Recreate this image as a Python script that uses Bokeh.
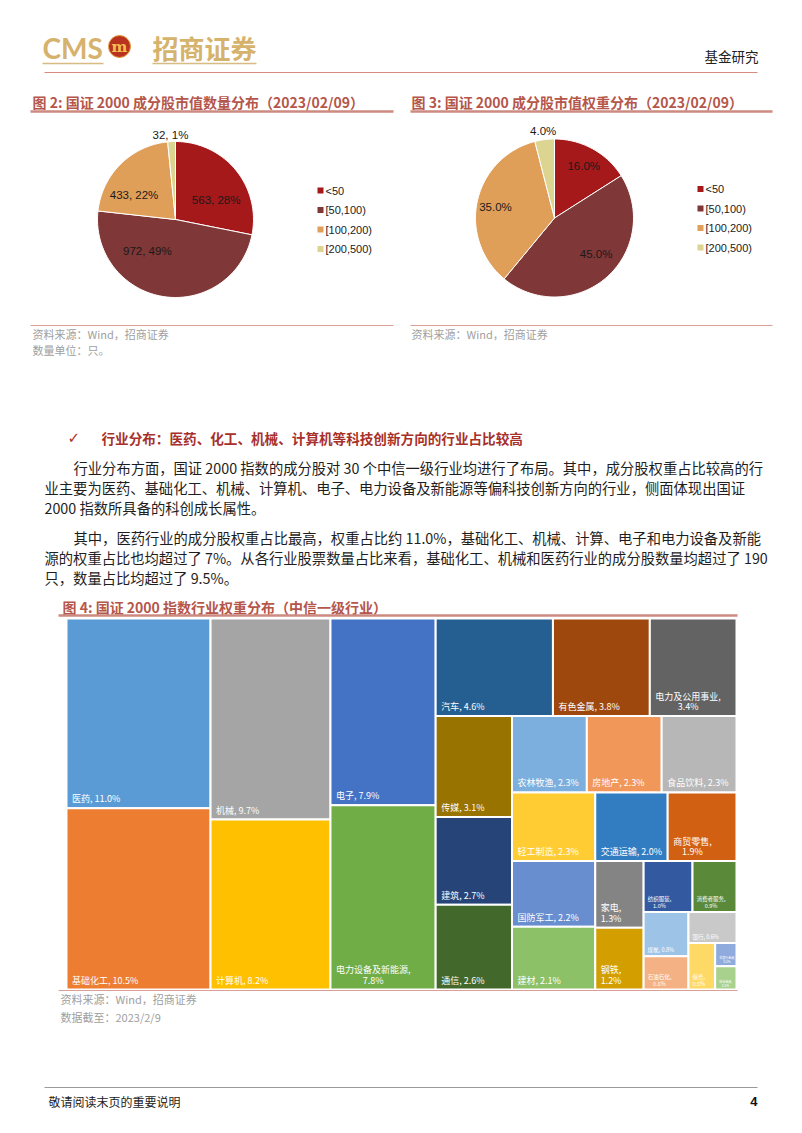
from bokeh.plotting import figure
from bokeh.models import Range1d, ColumnDataSource
from bokeh.core.properties import value
from bokeh.embed import file_html
from bokeh.resources import INLINE
import math

# ---------------- data ----------------
pie_categories = ["<50", "[50,100)", "[100,200)", "[200,500)"]
pie_counts = [563, 972, 433, 32]
pie_count_pct = [28, 49, 22, 1]
pie_weights = [16.0, 45.0, 35.0, 4.0]

industries = ["医药", "基础化工", "机械", "计算机", "电子", "电力设备及新能源",
              "汽车", "有色金属", "电力及公用事业", "传媒", "建筑", "通信",
              "农林牧渔", "房地产", "食品饮料", "轻工制造", "国防军工", "建材",
              "交通运输", "商贸零售", "家电", "钢铁", "纺织服装", "消费者服务",
              "煤炭", "石油石化", "银行", "综合", "非银行金融", "综合金融"]
weights = [11.0, 10.5, 9.7, 8.2, 7.9, 7.8,
           4.6, 3.8, 3.4, 3.1, 2.7, 2.6,
           2.3, 2.3, 2.3, 2.3, 2.2, 2.1,
           2.0, 1.9, 1.3, 1.2, 1.0, 0.9,
           0.8, 0.6, 0.6, 0.5, 0.2, 0.2]

# ---------------- styles ----------------
pie_colors = ["#A5191A", "#7F3737", "#DF9F58", "#DCD591"]
tm_colors = ["#5B9BD5", "#ED7D31", "#A5A5A5", "#FFC000", "#4472C4", "#70AD47",
             "#255E91", "#9E480E", "#636363", "#997300", "#264478", "#43682B",
             "#7CAFDD", "#F1975A", "#B7B7B7", "#FFCD33", "#698ED0", "#8CC168",
             "#327DC2", "#D26012", "#848484", "#D39F00", "#335AA1", "#5A8A39",
             "#9DC3E6", "#F4B183", "#C9C9C9", "#FFD966", "#8FAADC", "#A9D18E"]
TITLE_C = "#B5564A"
RULE_C = "#CC8A80"
GOLD = "#D6B36C"
CJK = "Noto Sans CJK SC"
LAT = "Liberation Sans"

p = figure(width=786, height=1117, x_range=Range1d(0, 786), y_range=Range1d(1117, 0),
           output_backend="svg", toolbar_location=None, min_border=0)
p.axis.visible = False
p.grid.visible = False
p.outline_line_color = None
p.background_fill_color = "white"
p.border_fill_color = "white"


def txt(x, y, s, size, color="#222222", font=CJK, align="left", bold=False, baseline="middle"):
    p.text(x=[x], y=[y], text=[s], text_font=value(font), text_font_size=value(f"{size}px"),
           text_color=color, text_align=align, text_baseline=baseline,
           text_font_style="bold" if bold else "normal")


def hline(x0, x1, y, color, w=1.0):
    p.segment(x0=[x0], y0=[y], x1=[x1], y1=[y], line_color=color, line_width=w)


# ---------------- header ----------------
txt(42, 47, "CMS", 28, GOLD, font="Lato", bold=True)
p.circle(x=[119], y=[46], radius=11, fill_color="#B8321F", line_color="#E0A040", line_width=1)
txt(119, 46, "m", 15, "#F2C14E", font="DejaVu Serif", align="center", bold=True)
txt(152, 47, "招商证券", 26, GOLD, font=CJK, bold=True)
hline(42, 103, 63, "#D8BC82", 1.5)
hline(152, 256, 63, "#D8BC82", 1.5)
hline(44, 757, 72, "#D98A7E", 1.2)
txt(758, 55, "基金研究", 13.5, "#222222", align="right")

# ---------------- pie charts ----------------
def pie(cx, cy, r, vals, label_texts, label_pos, legend_x, legend_y0, title, tx, ux0, ux1, src_lines):
    txt(tx, 101, title, 14, TITLE_C, bold=True)
    hline(ux0, ux1, 111, RULE_C, 2.5)
    tot = float(sum(vals))
    start = 0.0
    for v, col in zip(vals, pie_colors):
        end = start + v / tot * 360.0
        n = max(3, int((end - start) / 2) + 2)
        xs, ys = [cx], [cy]
        for k in range(n + 1):
            a = math.radians(start + (end - start) * k / n)
            xs.append(cx + r * math.sin(a))
            ys.append(cy - r * math.cos(a))
        p.patch(xs, ys, fill_color=col, line_color="white", line_width=1)
        start = end
    for s, (ang, rho) in zip(label_texts, label_pos):
        a = math.radians(ang)
        txt(cx + rho * r * math.sin(a), cy - rho * r * math.cos(a), s, 11.5, "#1a1a1a",
            font=LAT, align="center")
    for i, (cat, col) in enumerate(zip(pie_categories, pie_colors)):
        yy = legend_y0 + i * 19.5
        p.rect(x=[legend_x], y=[yy], width=6, height=6, fill_color=col, line_color=None)
        txt(legend_x + 5, yy, cat, 11, "#222222", font=LAT)
    hline(ux0, ux1, 325, "#D9A096", 1)
    for j, s in enumerate(src_lines):
        txt(tx, 333 + 16 * j, s, 11, "#A0A0A0")


pie(175, 219, 78, pie_counts,
    [f"{c}, {pc}%" for c, pc in zip(pie_counts, pie_count_pct)],
    [(64, 0.58), (222, 0.54), (301, 0.62), (356.6, 1.09)],
    320, 190, "图 2: 国证 2000 成分股市值数量分布（2023/02/09）", 32, 30, 393,
    ["资料来源：Wind，招商证券", "数量单位：只。"])
pie(554, 217.5, 79, pie_weights,
    [f"{w:.1f}%" for w in pie_weights],
    [(29.6, 0.75), (131.2, 0.70), (280.4, 0.76), (352.6, 1.11)],
    700, 188.5, "图 3: 国证 2000 成分股市值权重分布（2023/02/09）", 411, 410, 772,
    ["资料来源：Wind，招商证券"])

# ---------------- text body ----------------
HEAD_C = "#A8302A"
txt(67, 437, "✓", 15, HEAD_C, font="DejaVu Sans")
txt(101, 437, "行业分布：医药、化工、机械、计算机等科技创新方向的行业占比较高", 13.6, HEAD_C, bold=True)
body = [
    (73, 467, "行业分布方面，国证 2000 指数的成分股对 30 个中信一级行业均进行了布局。其中，成分股权重占比较高的行"),
    (44, 487, "业主要为医药、基础化工、机械、计算机、电子、电力设备及新能源等偏科技创新方向的行业，侧面体现出国证"),
    (44, 507, "2000 指数所具备的科创成长属性。"),
    (73, 537, "其中，医药行业的成分股权重占比最高，权重占比约 11.0%，基础化工、机械、计算、电子和电力设备及新能"),
    (44, 557, "源的权重占比也均超过了 7%。从各行业股票数量占比来看，基础化工、机械和医药行业的成分股数量均超过了 190"),
    (44, 577, "只，数量占比均超过了 9.5%。"),
]
for x, y, s in body:
    txt(x, y, s, 14.3, "#1e1e1e")

# ---------------- treemap ----------------
txt(62, 606, "图 4: 国证 2000 指数行业权重分布（中信一级行业）", 14, TITLE_C, bold=True)
hline(58, 737, 615, RULE_C, 2.5)

TM_L, TM_T, TM_R, TM_B = 66, 618, 736, 989


def squarify(vals, x0, y0, x1, y1, ratio=0.9):
    rects = [None] * len(vals)
    total = float(sum(vals))
    i0, n = 0, len(vals)
    while i0 < n:
        dx, dy = x1 - x0, y1 - y0
        s = vals[i0]
        mn = mx = s
        i1 = i0 + 1
        alpha = max(dy / dx, dx / dy) / (total * ratio)
        beta = s * s * alpha
        best = max(mx / beta, beta / mn)
        while i1 < n:
            v = vals[i1]
            s2 = s + v
            mn2, mx2 = min(mn, v), max(mx, v)
            beta = s2 * s2 * alpha
            nr = max(mx2 / beta, beta / mn2)
            if nr > best:
                break
            s, mn, mx, best = s2, mn2, mx2, nr
            i1 += 1
        if dx < dy:
            h = dy * s / total
            xx = x0
            for i in range(i0, i1):
                w = dx * vals[i] / s
                rects[i] = (xx, y0, xx + w, y0 + h)
                xx += w
            y0 += h
        else:
            w = dx * s / total
            yy = y0
            for i in range(i0, i1):
                h = dy * vals[i] / s
                rects[i] = (x0, yy, x0 + w, yy + h)
                yy += h
            x0 += w
        total -= s
        i0 = i1
    return rects


rects = squarify(weights, TM_L, TM_T, TM_R, TM_B)
src = ColumnDataSource(dict(left=[r[0] for r in rects], right=[r[2] for r in rects],
                            top=[r[1] for r in rects], bottom=[r[3] for r in rects],
                            color=tm_colors))
p.quad(left="left", right="right", top="top", bottom="bottom", fill_color="color",
       line_color="white", line_width=2, source=src)


def est_w(s, fs):
    w = 0.0
    for ch in s:
        if ord(ch) > 0x2e80:
            w += 1.0
        elif ch in ".,:; ":
            w += 0.28
        elif ch == "%":
            w += 0.89
        elif ch.isdigit():
            w += 0.556
        else:
            w += 0.6
    return w * fs


lx, ly, lt, lf, la = [], [], [], [], []
for name, v, (l, t, r, b) in zip(industries, weights, rects):
    if v >= 1.1:
        fs, pad, off, lh = 9, 5, 9.5, 10.5
    elif v >= 0.5:
        fs, pad, off, lh = 5.5, 8, 6, 6.5
    else:
        fs, pad, off, lh = 3, 8, 4, 4
    x_in = l + 5.5 if fs == 9 else l + 4
    full = f"{name}, {v:.1f}%"
    if est_w(full, fs) <= (r - l) - 2 * pad:
        lx.append(x_in)
        ly.append(b - off)
        lt.append(full)
        lf.append(f"{fs}px")
        la.append("left")
    else:
        lines = [f"{name},", f"{v:.1f}%"]
        mw = max(est_w(s, fs) for s in lines)
        for k, s in enumerate(lines):
            lx.append(x_in + mw / 2)
            ly.append(b - off - (1 - k) * lh)
            lt.append(s)
            lf.append(f"{fs}px")
            la.append("center")

labels = ColumnDataSource(dict(x=lx, y=ly, text=lt, fs=lf, align=la))
p.text(x="x", y="y", text="text", text_font_size="fs", text_align="align", text_baseline="middle",
       text_font=value(CJK), text_color="white", source=labels)

hline(58, 737, 990, "#D9A096", 1)
txt(60, 998, "资料来源：Wind，招商证券", 11, "#A0A0A0")
txt(60, 1016, "数据截至：2023/2/9", 11, "#A0A0A0")

# ---------------- footer ----------------
hline(44, 757, 1087, "#9A9A9A", 1)
txt(48, 1101, "敬请阅读末页的重要说明", 12, "#222222")
txt(757, 1101, "4", 13, "#111111", font=LAT, align="right", bold=True)

open("out.html", "w").write(file_html(p, INLINE))
